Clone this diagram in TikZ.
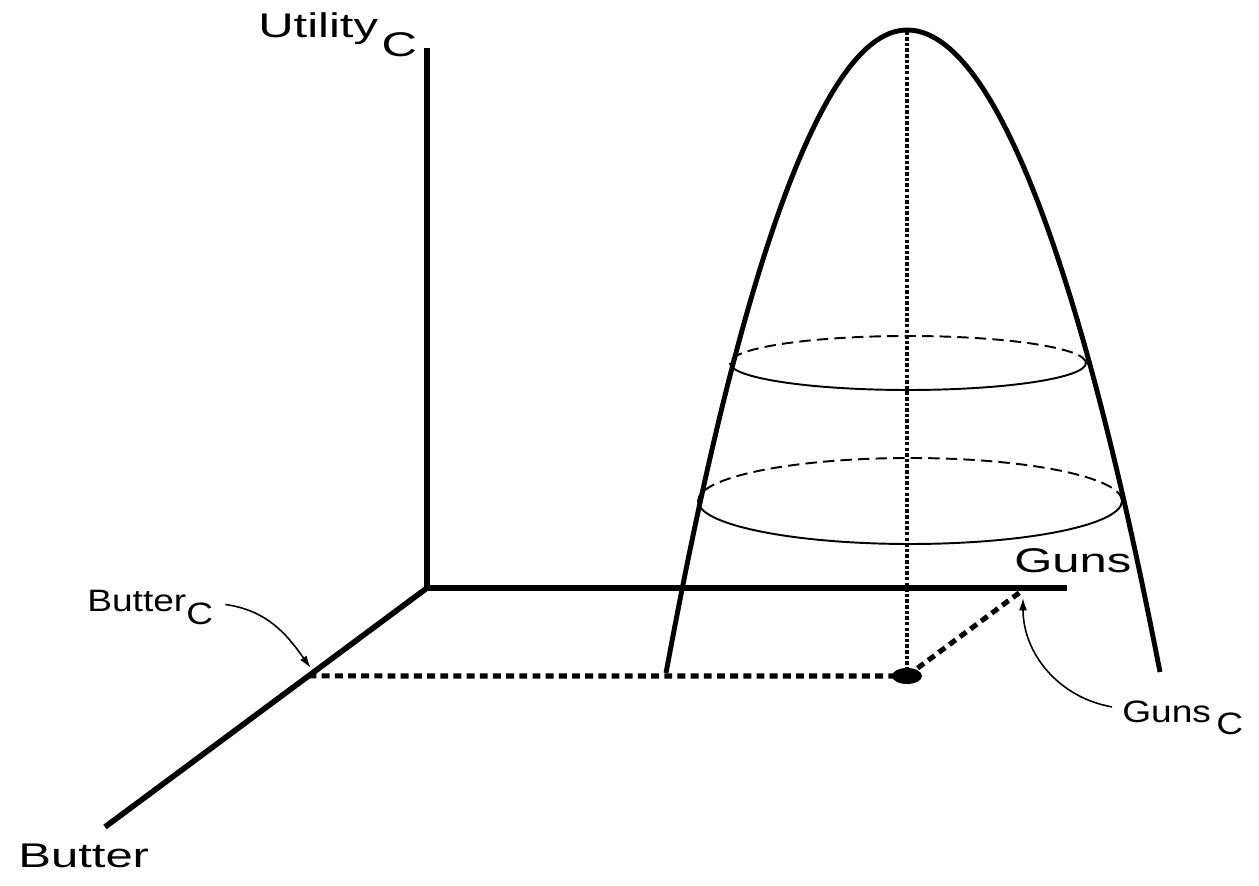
\documentclass[tikz,border=0pt]{standalone}
\usepackage{fontspec}
\setmainfont{Liberation Sans}
\usepackage{graphicx}
\usetikzlibrary{arrows.meta,calc}

\newcommand{\wideBig}[1]{\scalebox{1.43}[1]{#1}}
\newcommand{\wideSmall}[1]{\scalebox{1.2}[1]{#1}}

\begin{document}
\begin{tikzpicture}
	[x=0.02cm,y=0.02cm,
	 axis/.style={line width=3.2pt},
	 surface/.style={line width=2.8pt},
	 contour/.style={line width=1.1pt},
	 hidden/.style={contour,dash pattern=on 6.5pt off 3.5pt},
	 projection/.style={line width=2.9pt,dash pattern=on 4.5pt off 3pt},
	 dropline/.style={line width=2pt,dash pattern=on 2pt off 1.2pt},
	 pointer/.style={-{Latex[length=7pt,width=4.5pt]},line width=0.9pt},
	 biglabel/.style={inner sep=0,anchor=base west,font=\fontsize{19.5}{22}\selectfont},
	 smalllabel/.style={inner sep=0,anchor=base west,font=\fontsize{17.6}{20}\selectfont}]
	\useasboundingbox (0,0) rectangle (1259,886);
	% axes
	\coordinate (O) at (427,298);
	\coordinate (U) at (427,838);
	\coordinate (G) at (1067,298);
	\coordinate (B) at (105,59);
	\draw[axis] (U) -- (O) -- (G);
	\draw[axis] (O) -- (B);
	% axis labels
	\node[biglabel] (utility) at (258,848) {\wideBig{Utility}\hspace{2pt}\raisebox{-10.8pt}{\wideBig{C}}};
	\node[biglabel] (guns) at (1014,313) {\wideBig{Guns}};
	\node[biglabel] (butter) at (18,18) {\wideBig{Butter}};
	%
	% utility hill
	%
	\coordinate (footL) at (666,213);
	\coordinate (apex) at (907,856);
	\coordinate (footR) at (1160,214);
	\draw[surface] (footL) parabola bend (apex) (footR);
	% level sets
	\coordinate (E1) at (908,523);
	\coordinate (E2) at (910,385);
	\foreach \c/\rx/\ry in {E1/178/27,E2/212/43} {
		\draw[contour] ($(\c)+(-\rx,0)$) arc[start angle=180,end angle=360,x radius=\rx,y radius=\ry];
		\draw[hidden] ($(\c)+(\rx,0)$) arc[start angle=0,end angle=180,x radius=\rx,y radius=\ry];
	}
	%
	% optimum and its projections
	%
	\coordinate (P) at (907,210);
	\coordinate (bc) at ($(O)!0.368!(B)$);
	\coordinate (gc) at (1023,296);
	\draw[dropline] (P) -- (apex);
	\draw[projection] (bc) -- (P);
	\draw[projection] (P) -- (gc);
	\fill (P) ellipse[x radius=15,y radius=8];
	% labels of the projections
	\node[smalllabel] (butterc) at (87,274) {\wideSmall{Butter}\raisebox{-7.4pt}{\wideSmall{C}}};
	\node[smalllabel] (gunsc) at (1122,163) {\wideSmall{Guns}\hspace{3pt}\raisebox{-6.8pt}{\wideSmall{C}}};
	\draw[pointer] ([xshift=6.8pt,yshift=2pt]butterc.east) to[out=-8,in=125] ($(bc)+(2,8)$);
	\draw[pointer] ([xshift=-5.7pt,yshift=6.5pt]gunsc.west) to[out=170,in=-90] ($(gc)+(0,-8)$);
\end{tikzpicture}
\end{document}
